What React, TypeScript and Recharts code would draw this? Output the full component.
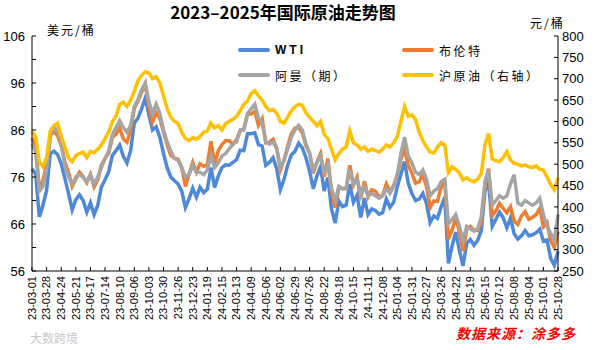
import { ComposedChart, Line, XAxis, YAxis } from "recharts";

// x-axis tick labels, one every 27 days
const dateLabels = [
  "23-03-01", "23-03-28", "23-04-24", "23-05-21", "23-06-17", "23-07-14",
  "23-08-10", "23-09-06", "23-10-03", "23-10-30", "23-11-26", "23-12-23",
  "24-01-19", "24-02-15", "24-03-13", "24-04-09", "24-05-06", "24-06-02",
  "24-06-29", "24-07-26", "24-08-22", "24-09-18", "24-10-15", "24-11-11",
  "24-12-08", "25-01-04", "25-01-31", "25-02-27", "25-03-26", "25-04-22",
  "25-05-19", "25-06-15", "25-07-12", "25-08-08", "25-09-04", "25-10-01",
  "25-10-28",
];

// roughly weekly samples, 4 per label interval (USD/bbl)
const wti = [
  77.7, 76.7, 67.5, 70.0, 73.2, 81.0, 81.5, 80.8, 78.8, 75.7,
  72.5, 69.0, 71.2, 72.2, 71.0, 68.5, 70.5, 68.0, 70.0, 73.9,
  75.4, 77.1, 80.6, 81.6, 82.8, 80.4, 79.0, 81.6, 87.5, 88.5,
  90.5, 92.8, 89.2, 86.0, 86.7, 84.5, 81.0, 78.0, 76.0, 75.2,
  74.5, 73.0, 69.5, 71.4, 73.6, 71.7, 73.8, 72.7, 73.4, 78.0,
  73.8, 76.2, 78.0, 78.6, 78.5, 79.1, 79.7, 81.7, 81.6, 85.2,
  85.2, 85.4, 82.9, 82.6, 78.5, 79.1, 80.1, 77.7, 73.3, 75.5,
  78.5, 80.7, 81.5, 83.2, 82.2, 80.1, 77.2, 73.5, 76.2, 78.2,
  73.0, 75.9, 69.2, 66.2, 70.9, 69.7, 70.0, 74.5, 70.6, 72.1,
  67.4, 71.5, 68.0, 69.2, 68.9, 68.1, 68.4, 71.3, 69.5, 70.6,
  73.9, 76.6, 79.3, 74.7, 72.5, 71.0, 71.3, 72.5, 70.4, 66.3,
  67.7, 67.2, 69.6, 71.7, 57.6, 61.3, 64.3, 60.4, 57.1, 61.9,
  62.7, 61.5, 62.5, 64.6, 72.9, 74.9, 65.5, 67.0, 68.5, 67.3,
  65.2, 67.3, 63.9, 62.8, 63.5, 64.6, 63.5, 63.7, 64.1, 64.9,
  62.4, 62.6, 58.7, 57.2, 60.2,
];

const brent = [
  84.3, 82.7, 73.5, 75.3, 78.7, 84.9, 85.6, 84.8, 82.7, 79.3,
  77.0, 74.0, 75.6, 77.0, 76.1, 74.8, 76.6, 73.9, 75.4, 78.5,
  79.9, 81.1, 84.4, 85.1, 86.4, 84.1, 83.4, 85.9, 90.6, 92.1,
  94.0, 95.8, 90.9, 87.7, 89.6, 88.5, 85.5, 82.8, 80.6, 80.0,
  79.8, 78.0, 74.0, 76.6, 79.1, 77.0, 78.8, 78.3, 78.6, 83.6,
  78.7, 81.6, 82.9, 83.7, 83.7, 82.9, 84.0, 85.8, 86.3, 89.4,
  89.4, 90.0, 87.0, 88.4, 83.3, 83.4, 84.0, 82.1, 77.5, 79.6,
  82.6, 85.2, 86.4, 86.5, 85.4, 82.6, 81.1, 76.8, 79.2, 81.0,
  76.1, 79.9, 72.7, 69.5, 73.7, 73.5, 73.6, 78.5, 74.3, 76.0,
  71.4, 75.1, 71.8, 73.3, 73.0, 71.8, 72.1, 74.5, 72.9, 74.2,
  76.5, 79.8, 82.0, 78.5, 76.8, 74.7, 75.0, 76.5, 74.0, 69.5,
  70.9, 70.8, 73.8, 74.9, 62.8, 64.7, 67.4, 64.3, 60.2, 64.9,
  65.5, 64.7, 64.6, 66.5, 74.2, 77.8, 67.8, 68.8, 70.4, 69.3,
  68.4, 69.7, 66.6, 65.9, 67.7, 68.6, 67.0, 67.4, 68.0, 69.3,
  65.4, 66.3, 62.4, 61.0, 64.4,
];

const oman = [
  83.0, 81.5, 73.0, 74.0, 77.5, 84.5, 86.5, 86.0, 83.0, 78.5,
  76.0, 74.5, 76.0, 76.5, 76.0, 75.0, 76.5, 74.5, 76.0, 78.0,
  80.0, 81.5, 85.0, 86.5, 88.0, 86.5, 85.5, 87.0, 91.0, 92.5,
  94.5, 96.0, 92.0, 89.5, 91.5, 89.5, 86.0, 83.5, 81.5, 80.0,
  79.5, 78.0, 76.0, 76.5, 78.5, 77.0, 77.0, 76.5, 77.5, 80.5,
  78.0, 79.0, 80.5, 81.0, 82.0, 83.0, 83.5, 86.0, 86.0, 89.5,
  90.5, 91.5, 88.5, 87.5, 83.5, 83.0, 83.5, 82.0, 78.0, 79.5,
  82.0, 84.5, 86.0, 87.0, 86.0, 83.0, 81.0, 77.5, 79.0, 80.5,
  77.0, 78.5, 73.5, 71.0, 74.0, 73.5, 73.5, 77.5, 74.5, 75.5,
  72.0, 74.0, 72.0, 72.5, 72.0, 71.5, 72.0, 73.5, 72.5, 74.0,
  76.5, 81.0, 84.5, 80.5, 79.0, 77.0, 76.5, 77.5, 75.5, 72.0,
  73.0, 73.5, 75.0, 75.5, 66.0, 67.0, 68.0, 65.5, 62.5, 65.5,
  65.0, 64.5, 65.0, 67.5, 75.0, 77.5, 70.0, 71.0, 72.0, 71.5,
  72.0, 74.5, 76.5, 70.5, 70.0, 71.0, 70.5, 70.0, 70.5, 71.5,
  68.0, 65.5, 64.0, 62.5, 68.0,
];

// Shanghai crude, CNY/bbl (right axis)
const sc = [
  576, 565, 505, 494, 515, 578, 590, 596, 565, 540,
  515, 506, 520, 525, 528, 515, 530, 527, 535, 545,
  560, 575, 600, 612, 640, 645, 635, 650, 670, 695,
  708, 716, 714, 700, 705, 690, 660, 630, 610, 600,
  595, 575, 560, 555, 562, 558, 565, 575, 578, 596,
  585, 590, 580, 595, 600, 605, 612, 625, 640, 648,
  665, 672, 660, 650, 635, 625, 628, 620, 600, 596,
  610, 625, 635, 640, 638, 620, 610, 600, 590, 600,
  570, 560, 535, 510, 525, 535, 540, 578, 550, 545,
  535, 540, 530, 535, 532, 528, 535, 545, 540, 550,
  565, 600, 635, 612, 615, 605, 575, 555, 540, 528,
  526, 540, 550, 545, 480, 494, 488, 479, 463, 468,
  462, 459, 465, 478, 545, 572, 512, 508, 506, 515,
  529, 510, 502, 500, 496, 498, 494, 492, 496, 488,
  486, 470, 452, 440, 468,
];

const STEP = 4;
const leftTicks = [56, 61, 66, 71, 76, 81, 86, 91, 96, 101, 106];
const rightTicks = [250, 300, 350, 400, 450, 500, 550, 600, 650, 700, 750, 800];

const chartData = wti.map((v, i) => ({
  i,
  wti: v,
  brent: brent[i],
  oman: oman[i],
  sc: sc[i],
}));

const legendItems = [
  { name: "WTI", color: "#4E88D8", left: 238, top: 50, bold: true },
  { name: "布伦特", color: "#ED7D31", left: 402, top: 50 },
  { name: "阿曼（期）", color: "#A5A5A5", left: 238, top: 75 },
  { name: "沪原油（右轴）", color: "#FFC000", left: 402, top: 75 },
];

const numFont = "'Liberation Sans', Arial, sans-serif";
const cjkFont = "'Noto Sans CJK SC', 'Noto Sans', sans-serif";

function DateTick({ x, y, payload }: any) {
  const label = dateLabels[Math.round(payload.value / STEP)];
  return (
    <text
      transform={`translate(${x},${y}) rotate(-90)`}
      textAnchor="end"
      dy="0.35em"
      fontSize={11}
      fontFamily={numFont}
      fill="#000"
    >
      {label}
    </text>
  );
}

export default function App() {
  return (
    <div
      style={{
        position: "absolute",
        left: 0,
        top: 0,
        width: 600,
        height: 350,
        background: "#fff",
      }}
    >
      <ComposedChart
        width={600}
        height={350}
        data={chartData}
        margin={{ top: 36, right: 0, bottom: 19, left: 0 }}
      >
        <XAxis
          dataKey="i"
          type="number"
          domain={[0, 144]}
          ticks={dateLabels.map((_, k) => k * STEP)}
          interval={0}
          height={60}
          tick={<DateTick />}
          tickSize={-4}
          tickMargin={9}
          axisLine={{ stroke: "#000" }}
          tickLine={{ stroke: "#000" }}
        />
        <YAxis
          yAxisId="left"
          domain={[56, 106]}
          ticks={leftTicks}
          interval={0}
          width={32}
          tickSize={-4}
          tickMargin={11}
          tickFormatter={(v: number) => ((v - 56) % 10 === 0 ? String(v) : "")}
          tick={{ fill: "#000", fontSize: 13, fontFamily: numFont }}
          axisLine={{ stroke: "#000" }}
          tickLine={{ stroke: "#000" }}
        />
        <YAxis
          yAxisId="right"
          orientation="right"
          domain={[250, 800]}
          ticks={rightTicks}
          interval={0}
          width={42}
          tickSize={-4}
          tickMargin={8}
          tick={{ fill: "#000", fontSize: 13, fontFamily: numFont }}
          axisLine={{ stroke: "#000" }}
          tickLine={{ stroke: "#000" }}
        />
        <Line
          yAxisId="left"
          dataKey="wti"
          type="linear"
          stroke="#4E88D8"
          strokeWidth={3.5}
          dot={false}
          isAnimationActive={false}
        />
        <Line
          yAxisId="left"
          dataKey="brent"
          type="linear"
          stroke="#ED7D31"
          strokeWidth={3.5}
          dot={false}
          isAnimationActive={false}
        />
        <Line
          yAxisId="left"
          dataKey="oman"
          type="linear"
          stroke="#A5A5A5"
          strokeWidth={3.5}
          dot={false}
          isAnimationActive={false}
        />
        <Line
          yAxisId="right"
          dataKey="sc"
          type="linear"
          stroke="#FFC000"
          strokeWidth={3.5}
          dot={false}
          isAnimationActive={false}
        />
      </ComposedChart>

      {/* title and unit labels */}
      <div
        style={{
          position: "absolute",
          left: 0,
          width: 566,
          top: 2,
          textAlign: "center",
          fontFamily: cjkFont,
          fontWeight: 700,
          fontSize: 17,
          color: "#000",
          lineHeight: "20px",
        }}
      >
        2023–2025年国际原油走势图
      </div>
      <div
        style={{
          position: "absolute",
          left: 47,
          top: 22,
          fontFamily: cjkFont,
          fontSize: 12,
          letterSpacing: 2,
          lineHeight: "16px",
        }}
      >
        美元/桶
      </div>
      <div
        style={{
          position: "absolute",
          left: 530,
          top: 15,
          fontFamily: cjkFont,
          fontSize: 12,
          letterSpacing: 2,
          lineHeight: "16px",
        }}
      >
        元/桶
      </div>

      {/* legend */}
      {legendItems.map((item) => (
        <div
          key={item.name}
          style={{
            position: "absolute",
            left: item.left,
            top: item.top - 9,
            height: 18,
            display: "flex",
            alignItems: "center",
            fontFamily: item.bold ? numFont : cjkFont,
            fontWeight: item.bold ? 700 : 400,
            fontSize: 12,
            letterSpacing: item.bold ? 3 : 2.5,
            color: "#000",
            whiteSpace: "nowrap",
          }}
        >
          <span
            style={{
              display: "inline-block",
              width: 32,
              height: 4,
              background: item.color,
              borderRadius: 2,
              marginRight: 5,
            }}
          />
          {item.name}
        </div>
      ))}

      {/* source note */}
      <div
        style={{
          position: "absolute",
          left: 456,
          top: 324,
          fontFamily: cjkFont,
          fontWeight: 700,
          fontStyle: "italic",
          fontSize: 14,
          letterSpacing: 1,
          color: "#FF0000",
          lineHeight: "18px",
        }}
      >
        数据来源：涂多多
      </div>
      <div
        style={{
          position: "absolute",
          left: 30,
          top: 330,
          fontFamily: cjkFont,
          fontSize: 12,
          color: "#C8C8C8",
          lineHeight: "16px",
        }}
      >
        大数跨境
      </div>
    </div>
  );
}
